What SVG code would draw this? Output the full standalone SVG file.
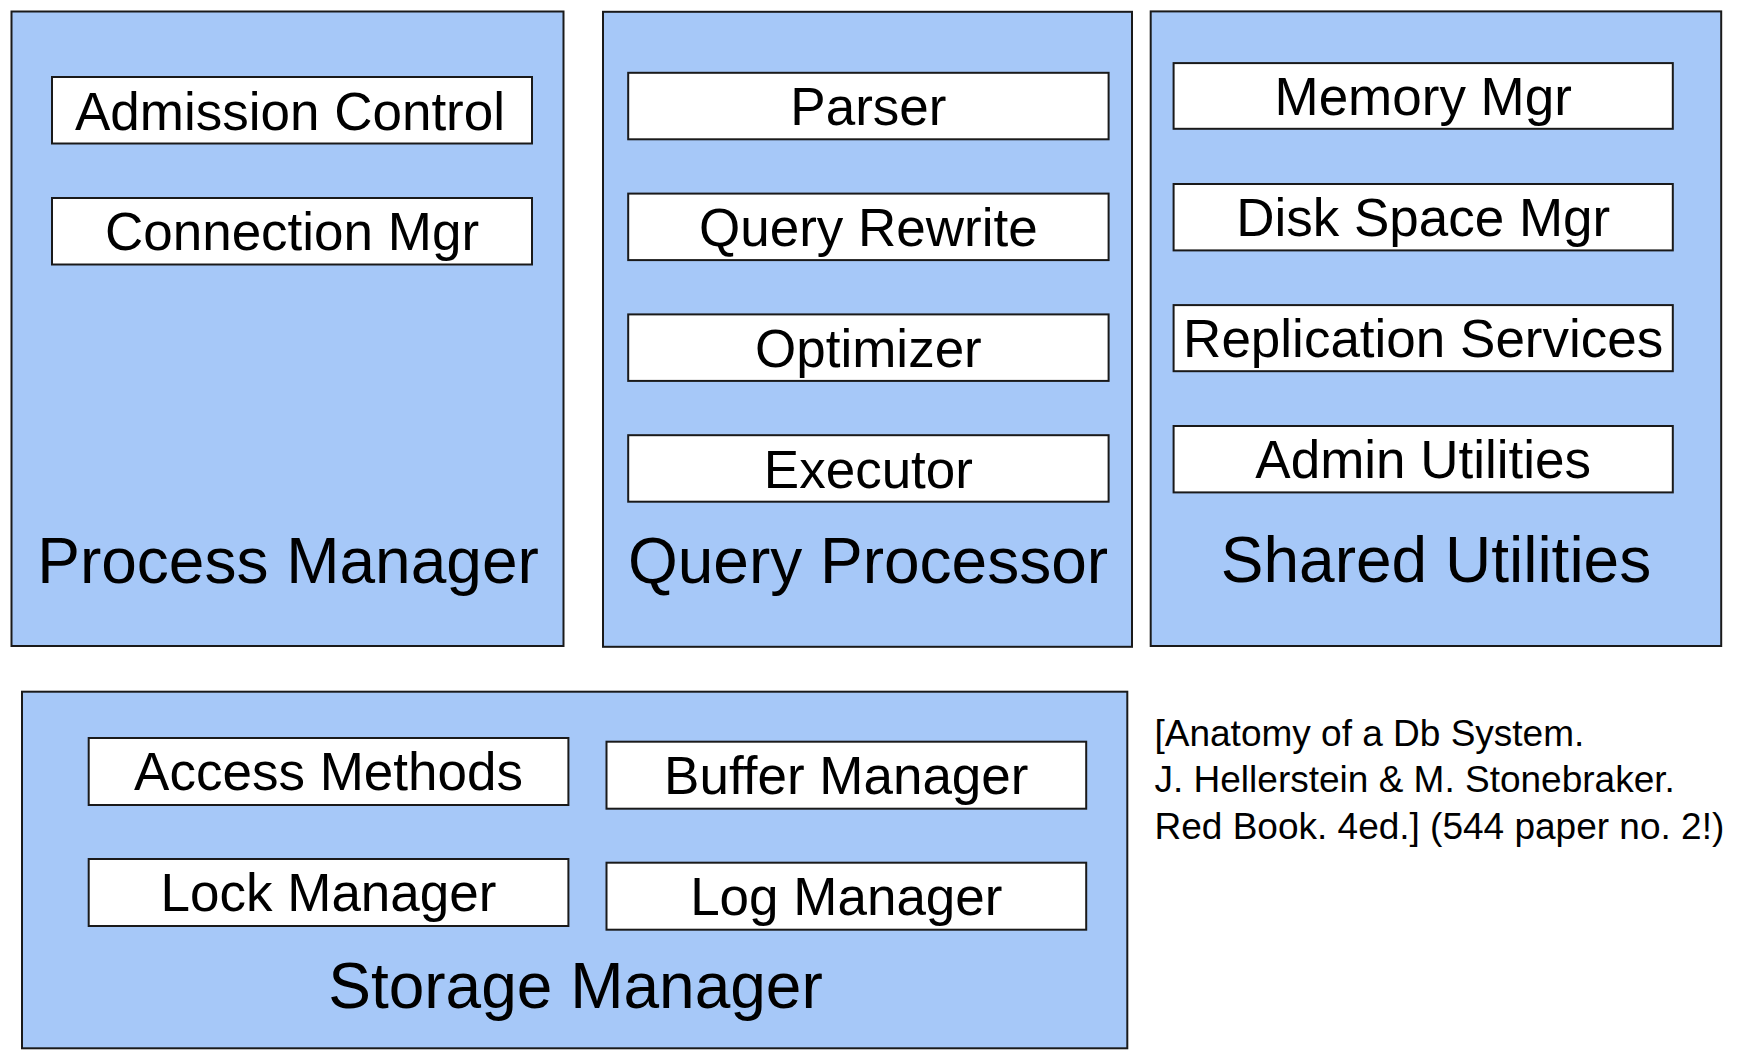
<svg xmlns="http://www.w3.org/2000/svg" width="1738" height="1064" viewBox="0 0 1738 1064">
<style>
.grp{fill:#a6c8f8;stroke:#1a1a1a;stroke-width:2}
.box{fill:#ffffff;stroke:#1a1a1a;stroke-width:2}
.big{font-family:"Liberation Sans",Arial,sans-serif;font-size:64px;fill:#000;text-anchor:middle}
.lbl{font-family:"Liberation Sans",Arial,sans-serif;font-size:53px;fill:#000;text-anchor:middle}
.note{font-family:"Liberation Sans",Arial,sans-serif;font-size:37px;fill:#000}
</style>
<rect width="1738" height="1064" fill="#ffffff"/>
<g id="process-manager">
<rect class="grp" x="11.5" y="11.5" width="552" height="634.5"/>
<text class="big" x="288" y="583">Process Manager</text>
</g>
<g id="admission-control">
<rect class="box" x="52" y="77" width="480" height="66.5"/>
<text class="lbl" x="290" y="130">Admission Control</text>
</g>
<g id="connection-mgr">
<rect class="box" x="52" y="198" width="480" height="66.5"/>
<text class="lbl" x="292" y="250">Connection Mgr</text>
</g>
<g id="query-processor">
<rect class="grp" x="603" y="11.8" width="529" height="635"/>
<text class="big" x="868" y="583">Query Processor</text>
</g>
<g id="parser">
<rect class="box" x="628.2" y="72.8" width="480.4" height="66.5"/>
<text class="lbl" x="868.4" y="125">Parser</text>
</g>
<g id="query-rewrite">
<rect class="box" x="628.2" y="193.6" width="480.4" height="66.5"/>
<text class="lbl" x="868.4" y="245.5">Query Rewrite</text>
</g>
<g id="optimizer">
<rect class="box" x="628.2" y="314.4" width="480.4" height="66.5"/>
<text class="lbl" x="868.4" y="366.5">Optimizer</text>
</g>
<g id="executor">
<rect class="box" x="628.2" y="435.2" width="480.4" height="66.5"/>
<text class="lbl" x="868.4" y="487.5">Executor</text>
</g>
<g id="shared-utilities">
<rect class="grp" x="1150.7" y="11.4" width="570.5" height="634.6"/>
<text class="big" x="1436" y="582">Shared Utilities</text>
</g>
<g id="memory-mgr">
<rect class="box" x="1173.6" y="63.1" width="499.2" height="65.7"/>
<text class="lbl" x="1423.2" y="114.5">Memory Mgr</text>
</g>
<g id="disk-space-mgr">
<rect class="box" x="1173.6" y="184" width="499.2" height="66.4"/>
<text class="lbl" x="1423.2" y="235.5">Disk Space Mgr</text>
</g>
<g id="replication-services">
<rect class="box" x="1173.6" y="305.1" width="499.2" height="66.1"/>
<text class="lbl" x="1423.2" y="356.5">Replication Services</text>
</g>
<g id="admin-utilities">
<rect class="box" x="1173.6" y="426" width="499.2" height="66.4"/>
<text class="lbl" x="1423.2" y="477.5">Admin Utilities</text>
</g>
<g id="storage-manager">
<rect class="grp" x="22" y="691.7" width="1105.3" height="356.6"/>
<text class="big" x="575.5" y="1008">Storage Manager</text>
</g>
<g id="access-methods">
<rect class="box" x="88.7" y="738" width="479.7" height="67"/>
<text class="lbl" x="328.5" y="790">Access Methods</text>
</g>
<g id="buffer-manager">
<rect class="box" x="606.5" y="741.7" width="479.7" height="67"/>
<text class="lbl" x="846.3" y="793.5">Buffer Manager</text>
</g>
<g id="lock-manager">
<rect class="box" x="88.7" y="859" width="479.7" height="67"/>
<text class="lbl" x="328.5" y="911">Lock Manager</text>
</g>
<g id="log-manager">
<rect class="box" x="606.5" y="862.7" width="479.7" height="67"/>
<text class="lbl" x="846.3" y="914.5">Log Manager</text>
</g>
<g id="connectors"></g>
<g id="citation">
<text class="note" x="1154.5" y="746">[Anatomy of a Db System.</text>
<text class="note" x="1154.5" y="792">J. Hellerstein &amp; M. Stonebraker.</text>
<text class="note" x="1154.5" y="838.5">Red Book. 4ed.] (544 paper no. 2!)</text>
</g>
</svg>
